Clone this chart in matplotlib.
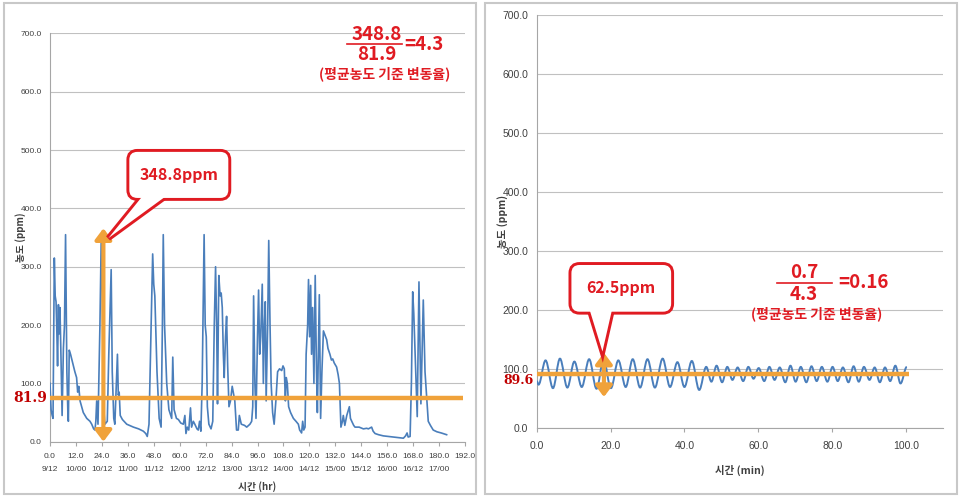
import numpy as np
import matplotlib
matplotlib.use("Agg")
import matplotlib.pyplot as plt
from matplotlib.patches import FancyBboxPatch, Polygon, PathPatch, Rectangle, FancyArrowPatch
from matplotlib.path import Path
from matplotlib.lines import Line2D

plt.rcParams['font.family'] = ['Liberation Sans', 'Noto Sans CJK KR', 'DejaVu Sans']
KR = ['Noto Sans CJK KR', 'DejaVu Sans']

# ---- left chart: hourly concentration (ppm) over ~8 days ----
left_hr = [0.0, 0.5, 1.0, 1.4, 2.0, 2.4, 2.8, 3.1, 3.5, 3.9, 4.3, 4.6, 5.0, 5.6, 6.2, 6.7, 7.2, 7.8, 8.3, 8.5,
           8.9, 9.5, 10.8, 11.5, 12.3, 12.8, 13.3, 13.9, 15.4, 17.0, 18.5, 19.3, 20.2, 20.8, 21.2, 21.6, 22.2,
           23.1, 23.7, 24.2, 24.8, 25.4, 26.5, 27.2, 28.3, 28.8, 29.5, 30.0, 31.2, 31.6, 32.0, 32.5, 33.5,
           35.5, 38.6, 41.0, 43.2, 44.3, 45.0, 45.8, 46.5, 47.5, 48.0, 48.5, 49.5, 50.5, 51.4, 52.0, 52.4,
           53.0, 54.0, 55.0, 56.3, 56.8, 57.4, 58.5, 59.4, 60.5, 61.7, 62.4, 62.9, 63.5, 64.2, 65.0, 65.5,
           66.3, 67.0, 68.0, 68.6, 69.2, 69.8, 70.4, 71.3, 71.8, 72.3, 72.8, 73.5, 74.5, 75.3, 76.0, 76.6,
           77.1, 77.5, 78.1, 78.7, 79.2, 79.7, 80.2, 80.6, 81.2, 81.7, 82.2, 82.8, 83.5, 84.3, 84.8, 85.5,
           86.3, 87.1, 87.6, 88.5, 90.0, 91.0, 92.5, 93.3, 93.8, 94.2, 94.8, 95.3, 96.0, 96.5, 97.0, 97.5,
           98.2, 98.7, 99.2, 99.6, 100.0, 100.7, 101.2, 101.8, 102.3, 103.0, 103.7, 104.5, 105.3, 106.2,
           107.2, 107.8, 108.4, 108.9, 109.3, 109.8, 110.4, 111.3, 112.6, 113.8, 114.9, 115.5, 116.4, 116.9,
           117.4, 118.0, 118.5, 119.2, 119.6, 120.1, 120.6, 121.0, 121.5, 122.1, 122.7, 123.3, 123.7, 124.6,
           125.2, 125.8, 126.5, 127.3, 128.0, 128.6, 129.5, 130.2, 130.8, 131.5, 132.6, 133.3, 133.9, 134.6,
           135.3, 135.7, 136.4, 137.3, 138.1, 138.5, 139.0, 139.6, 140.5, 141.1, 143.0, 145.0, 146.5, 147.3,
           148.8, 149.5, 150.4, 152.0, 154.2, 156.5, 158.9, 161.0, 163.5, 164.5, 165.2, 165.7, 166.6, 167.2,
           167.8, 168.3, 169.9, 170.7, 171.6, 172.7, 173.5, 175.0, 176.0, 177.3, 179.0, 181.0, 183.5]
left_ppm = [100, 55, 45, 40, 315, 250, 240, 200, 130, 235, 185, 230, 160, 45, 160, 200, 355, 120, 45, 35,
            157, 150, 130, 120, 110, 85, 95, 70, 50, 40, 35, 30, 22, 20, 35, 70, 30,
            200, 349, 250, 60, 30, 35, 150, 295, 120, 40, 30, 150, 80, 85, 45, 38,
            30, 25, 22, 18, 14, 9, 30, 150, 322, 270, 250, 120, 40, 25, 200, 355,
            200, 100, 55, 40, 145, 55, 40, 38, 32, 30, 45, 14, 25, 20, 58, 25,
            35, 30, 22, 20, 35, 18, 100, 355, 200, 180, 60, 30, 22, 35, 200, 300,
            200, 65, 285, 250, 255, 230, 150, 110, 180, 215, 130, 60, 70, 95, 85, 70,
            20, 20, 45, 30, 28, 25, 30, 35, 60, 250, 100, 40, 180, 260, 150, 180,
            270, 100, 200, 240, 70, 200, 345, 200, 100, 50, 30, 70, 120, 125,
            122, 130, 125, 70, 110, 100, 60, 50, 40, 35, 30, 20, 15, 35,
            20, 25, 150, 200, 278, 180, 268, 150, 230, 100, 285, 120, 50, 252,
            40, 120, 190, 182, 175, 160, 150, 140, 142, 135, 128, 115, 100, 25,
            35, 45, 28, 45, 55, 60, 40, 35, 28, 25, 25, 22, 23, 22,
            25, 18, 14, 12, 10, 9, 8, 7, 6, 10, 15, 8, 9, 100,
            257, 220, 43, 274, 65, 243, 120, 35, 28, 20, 17, 15, 12]
left_ticks = [0, 12, 24, 36, 48, 60, 72, 84, 96, 108, 120, 132, 144, 156, 168, 180, 192]
left_dates = ['9/12', '10/00', '10/12', '11/00', '11/12', '12/00', '12/12', '13/00', '13/12', '14/00',
              '14/12', '15/00', '15/12', '16/00', '16/12', '17/00', '']
left_avg_line = 75.0       # drawn position of the mean line
left_avg_label = '81.9'
left_peak_hr, left_peak_top = 24.7, 366
left_peak_label = '348.8ppm'

# ---- right chart: minute concentration (ppm) ----
right_min = [0.0, 0.5, 2.4, 4.4, 6.3, 8.3, 10.2, 12.2, 14.2, 16.2, 18.1, 20.1, 22.1, 24.1, 26.0, 28.0, 30.0,
             32.0, 34.1, 36.1, 38.1, 40.0, 42.0, 44.0, 45.9, 47.3, 48.7, 50.2, 51.6, 53.0, 54.4, 55.9, 57.3,
             58.7, 60.1, 61.6, 63.0, 64.4, 65.8, 67.3, 68.7, 70.1, 71.5, 73.0, 74.4, 75.8, 77.2, 78.7, 80.1,
             81.5, 82.9, 84.4, 85.8, 87.2, 88.6, 90.1, 91.5, 92.9, 94.3, 95.7, 97.1, 98.5, 100.2]
right_ppm = [80, 74, 115, 68, 118, 69, 113, 70, 117, 67, 116, 68, 115, 70, 117, 69, 117,
             69, 118, 70, 112, 70, 114, 65, 104, 79, 106, 78, 104, 82, 103, 80, 104,
             84, 102, 80, 104, 82, 103, 78, 106, 79, 104, 78, 105, 80, 104, 79, 104,
             80, 103, 78, 105, 79, 104, 82, 103, 78, 103, 80, 106, 76, 104]
right_ticks = [0, 20, 40, 60, 80, 100]
right_avg_line = 91.5
right_avg_label = '89.6'
right_arrow_min, right_arrow_lo, right_arrow_hi = 18.2, 53, 128
right_peak_label = '62.5ppm'

BLUE = '#4A7EBB'
ORANGE = '#F0A23A'
RED = '#E01B22'
GRID = '#C0C0C0'
TXT = '#404040'

W, H = 962, 497
fig = plt.figure(figsize=(W / 100, H / 100), dpi=100)

# panel frames
for x0, x1 in [(4, 476), (485, 957)]:
    fig.add_artist(Rectangle((x0 / W, 1 - 494 / H), (x1 - x0) / W, 491 / H, transform=fig.transFigure,
                             fill=False, ec='#C8C8C8', lw=1.5))


def style_axes(ax, size):
    for s in ['top', 'right']:
        ax.spines[s].set_visible(False)
    for s in ['left', 'bottom']:
        ax.spines[s].set_color('#A6A6A6')
        ax.spines[s].set_linewidth(0.8)
    ax.set_ylim(0, 700)
    ax.set_yticks(range(0, 701, 100))
    ax.set_yticklabels([f'{v:.1f}' for v in range(0, 701, 100)])
    ax.grid(axis='y', color=GRID, lw=0.8)
    ax.set_axisbelow(True)
    ax.tick_params(axis='y', length=0, pad=6, labelsize=size, labelcolor=TXT)
    ax.tick_params(axis='x', length=3, color='#A6A6A6', labelsize=size, labelcolor=TXT)


def callout(ax, x0, x1, y0, y1, base, tip, aspect, rs, text, tx, ty):
    inside = (y1 - y0) * 0.15
    tail = [(base[0], y0 + inside), tip, (base[1], y0 + inside)]
    style = f"round,pad=0,rounding_size={rs}"
    ax.add_patch(FancyBboxPatch((x0, y0), x1 - x0, y1 - y0, boxstyle=style, mutation_aspect=aspect,
                                fc='none', ec=RED, lw=4.2, zorder=8, clip_on=False))
    ax.add_patch(Polygon(tail, closed=False, fc='none', ec=RED, lw=4.2, zorder=8, clip_on=False,
                         joinstyle='miter'))
    ax.add_patch(FancyBboxPatch((x0, y0), x1 - x0, y1 - y0, boxstyle=style, mutation_aspect=aspect,
                                fc='white', ec='none', zorder=9, clip_on=False))
    ax.add_patch(Polygon(tail, closed=True, fc='white', ec='none', zorder=9, clip_on=False))
    ax.text(tx, ty, text, ha='center', va='center', color=RED, fontsize=11.5, fontweight='bold',
            family=KR, zorder=10)


def fraction(num, den, res, cx, cy, x0, x1, rx, sub_cx, sub_cy):
    fig.text(cx / W, 1 - (cy - 10) / H, num, ha='center', va='center', color=RED, fontsize=13.5,
             fontweight='bold', family=KR)
    fig.text(cx / W, 1 - (cy + 11) / H, den, ha='center', va='center', color=RED, fontsize=13.5,
             fontweight='bold', family=KR)
    fig.add_artist(Line2D([x0 / W, x1 / W], [1 - cy / H, 1 - cy / H], transform=fig.transFigure,
                          color=RED, lw=1.2))
    fig.text(rx / W, 1 - cy / H, res, ha='left', va='center', color=RED, fontsize=13.5,
             fontweight='bold', family=KR)
    fig.text(sub_cx / W, 1 - sub_cy / H, '(평균농도 기준 변동율)', ha='center', va='center', color=RED,
             fontsize=10, fontweight='bold', family=KR)


def double_arrow(ax, x, lo, hi):
    ax.add_patch(FancyArrowPatch((x, lo), (x, hi),
                                 arrowstyle='<|-|>,head_length=0.6,head_width=0.45', mutation_scale=11,
                                 color=ORANGE, lw=3, zorder=5, shrinkA=0, shrinkB=0))


# ---------------- left panel ----------------
axL = fig.add_axes([50 / W, 1 - 441.7 / H, 415 / W, 408.2 / H])
style_axes(axL, 6)
axL.set_xlim(0, 192)
axL.set_xticks(left_ticks)
axL.set_xticklabels([f'{t:.1f}\n{d}' for t, d in zip(left_ticks, left_dates)], linespacing=2.2)
axL.tick_params(axis='x', pad=5)
axL.plot(left_hr, left_ppm, color=BLUE, lw=1.2, zorder=3)
axL.plot([0, 191], [left_avg_line, left_avg_line], color=ORANGE, lw=3.2, zorder=4, solid_capstyle='butt')
axL.text(-1.5, left_avg_line, left_avg_label, ha='right', va='center', color='#C00000', fontsize=10,
         fontweight='bold', family='DejaVu Serif', clip_on=False)
double_arrow(axL, left_peak_hr, 0, left_peak_top)
callout(axL, 36.7, 82.5, 418, 497, (44.7, 56.9), (27.0, 349), 3.71, 3.7, left_peak_label, 59.5, 457)
axL.set_xlabel('시간 (hr)', fontsize=7, fontweight='bold', color=TXT, family=KR, va='center')
axL.xaxis.set_label_coords(0.5, -0.111)
axL.set_ylabel('농도 (ppm)', fontsize=7, fontweight='bold', color=TXT, family=KR, va='center')
axL.yaxis.set_label_coords(-0.072, 0.5)
fraction('348.8', '81.9', '=4.3', 377, 44, 347, 402, 404, 385, 74)

# ---------------- right panel ----------------
axR = fig.add_axes([536.7 / W, 1 - 428.3 / H, 406.3 / W, 413.3 / H])
style_axes(axR, 7.5)
axR.set_xlim(0, 110)
axR.set_xticks(right_ticks)
axR.set_xticklabels([f'{t:.1f}' for t in right_ticks])
axR.tick_params(axis='x', pad=6)

verts = [(right_min[0], right_ppm[0])]
codes = [Path.MOVETO]
for i in range(1, len(right_min)):
    dx = right_min[i] - right_min[i - 1]
    verts += [(right_min[i - 1] + 0.36 * dx, right_ppm[i - 1]), (right_min[i] - 0.36 * dx, right_ppm[i]),
              (right_min[i], right_ppm[i])]
    codes += [Path.CURVE4] * 3
axR.add_patch(PathPatch(Path(verts, codes), fc='none', ec=BLUE, lw=1.4, zorder=3))
axR.plot([0, 100.7], [right_avg_line, right_avg_line], color=ORANGE, lw=3.2, zorder=4, solid_capstyle='butt')
axR.text(-0.9, right_avg_line - 10, right_avg_label, ha='right', va='center', color='#C00000', fontsize=9,
         fontweight='bold', family='DejaVu Serif', clip_on=False)
double_arrow(axR, right_arrow_min, right_arrow_lo, right_arrow_hi)
callout(axR, 9.4, 36.4, 197.5, 276.6, (13.9, 20.7), (17.8, 130), 6.28, 2.2, right_peak_label, 22.8, 237)
axR.set_xlabel('시간 (min)', fontsize=7.5, fontweight='bold', color=TXT, family=KR, va='center')
axR.xaxis.set_label_coords(0.5, -0.101)
axR.set_ylabel('농도 (ppm)', fontsize=7.5, fontweight='bold', color=TXT, family=KR, va='center')
axR.yaxis.set_label_coords(-0.085, 0.5)
fraction('0.7', '4.3', '=0.16', 804, 283, 777, 832, 838, 817, 314)

fig.savefig('out.png', dpi=100)
